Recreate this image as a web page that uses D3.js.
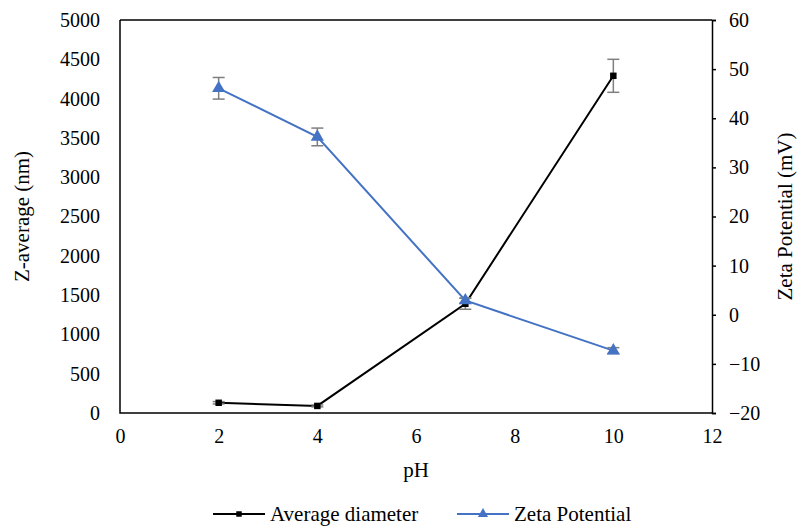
<!DOCTYPE html>
<html>
<head>
<meta charset="utf-8">
<script src="https://cdn.jsdelivr.net/npm/d3@7"></script>
<style>
  body { margin: 0; background: #fff; }
  svg text { font-family: "Liberation Serif", "Times New Roman", serif; fill: #000; }
</style>
</head>
<body>
<div id="chart"></div>
<script>
// pH values
const phValues = [2, 4, 7, 10];
// Z-average (nm) and its error
const diameter = [130, 90, 1390, 4290];
const diameterErr = [15, 12, 70, 210];
// Zeta potential (mV) and its error
const zeta = [46.1, 36.2, 2.9, -7.3];
const zetaErr = [2.2, 1.8, 0.5, 0.6];
// ticks
const xTicks = [0, 2, 4, 6, 8, 10, 12];
const leftTicks = [0, 500, 1000, 1500, 2000, 2500, 3000, 3500, 4000, 4500, 5000];
const rightTicks = [-20, -10, 0, 10, 20, 30, 40, 50, 60];

const width = 797, height = 527;
const margin = { top: 20, right: 85, bottom: 114, left: 120 };
const font = "'Liberation Serif', 'Times New Roman', serif";

const svg = d3.select("#chart").append("svg")
    .attr("width", width)
    .attr("height", height);

const x = d3.scaleLinear().domain([0, 12]).range([margin.left, width - margin.right]);
const yL = d3.scaleLinear().domain([0, 5000]).range([height - margin.bottom, margin.top]);
const yR = d3.scaleLinear().domain([-20, 60]).range([height - margin.bottom, margin.top]);

// frame: top, left, bottom lines
const x0 = x.range()[0], x1 = x.range()[1];
const yb = yL.range()[0], yt = yL.range()[1];
svg.append("path")
    .attr("d", `M${x0},${yt}H${x1}M${x0},${yt}V${yb}H${x1}`)
    .attr("fill", "none").attr("stroke", "#000").attr("stroke-width", 1.5);

// left axis labels (no tick marks)
svg.append("g")
    .attr("transform", `translate(${x0},0)`)
    .call(d3.axisLeft(yL).tickValues(leftTicks).tickSize(0).tickPadding(20).tickFormat(d3.format("d")))
    .attr("font-family", font).attr("font-size", 20)
    .call(g => g.select(".domain").remove());

// bottom axis labels
svg.append("g")
    .attr("transform", `translate(0,${yb})`)
    .call(d3.axisBottom(x).tickValues(xTicks).tickSize(0).tickPadding(16))
    .attr("font-family", font).attr("font-size", 20)
    .call(g => g.select(".domain").remove());

// right axis with small outward ticks
const rAxis = svg.append("g")
    .attr("transform", `translate(${x1},0)`)
    .call(d3.axisRight(yR).tickValues(rightTicks).tickSize(4).tickPadding(13)
        .tickFormat(d => d < 0 ? "\u2212" + Math.abs(d) : d))
    .attr("font-family", font).attr("font-size", 20);
rAxis.select(".domain").attr("stroke", "#000").attr("stroke-width", 1.5);
rAxis.selectAll("line").attr("stroke", "#000").attr("stroke-width", 1.5);

// axis titles
svg.append("text")
    .attr("transform", `translate(29,${(yt + yb) / 2}) rotate(-90)`)
    .attr("text-anchor", "middle").attr("font-size", 21)
    .text("Z-average (nm)");
svg.append("text")
    .attr("transform", `translate(792,${(yt + yb) / 2}) rotate(-90)`)
    .attr("text-anchor", "middle").attr("font-size", 21)
    .text("Zeta Potential (mV)");
svg.append("text")
    .attr("x", (x0 + x1) / 2).attr("y", 477)
    .attr("text-anchor", "middle").attr("font-size", 21)
    .text("pH");

const errColor = "#7f7f7f";
const blue = "#4472c4";

function drawSeries(vals, errs, yScale, color, symbolType, size) {
    const data = phValues.map((p, i) => ({ x: p, y: vals[i], e: errs[i] }));
    const g = svg.append("g");
    g.append("path")
        .datum(data)
        .attr("fill", "none").attr("stroke", color).attr("stroke-width", 2)
        .attr("d", d3.line().x(d => x(d.x)).y(d => yScale(d.y)));
    // error bars
    const eb = g.selectAll(".err").data(data).enter().append("g");
    eb.append("line")
        .attr("x1", d => x(d.x)).attr("x2", d => x(d.x))
        .attr("y1", d => yScale(d.y - d.e)).attr("y2", d => yScale(d.y + d.e))
        .attr("stroke", errColor).attr("stroke-width", 1.5);
    [-1, 1].forEach(s => {
        eb.append("line")
            .attr("x1", d => x(d.x) - 6).attr("x2", d => x(d.x) + 6)
            .attr("y1", d => yScale(d.y + s * d.e)).attr("y2", d => yScale(d.y + s * d.e))
            .attr("stroke", errColor).attr("stroke-width", 1.5);
    });
    g.selectAll(".mk").data(data).enter().append("path")
        .attr("transform", d => `translate(${x(d.x)},${yScale(d.y)})`)
        .attr("d", d3.symbol().type(symbolType).size(size))
        .attr("fill", color);
}

drawSeries(diameter, diameterErr, yL, "#000", d3.symbolSquare, 42);
drawSeries(zeta, zetaErr, yR, blue, d3.symbolTriangle, 75);

// legend
const legend = [
    { label: "Average diameter", color: "#000", sym: d3.symbolSquare, size: 30, x: 213 },
    { label: "Zeta Potential", color: blue, sym: d3.symbolTriangle, size: 45, x: 457 }
];
const lg = svg.append("g");
legend.forEach(l => {
    lg.append("line")
        .attr("x1", l.x).attr("x2", l.x + 52).attr("y1", 514).attr("y2", 514)
        .attr("stroke", l.color).attr("stroke-width", 2);
    lg.append("path")
        .attr("transform", `translate(${l.x + 26},514)`)
        .attr("d", d3.symbol().type(l.sym).size(l.size))
        .attr("fill", l.color);
    lg.append("text")
        .attr("x", l.x + 57).attr("y", 521)
        .attr("font-size", 21)
        .text(l.label);
});
</script>
</body>
</html>
